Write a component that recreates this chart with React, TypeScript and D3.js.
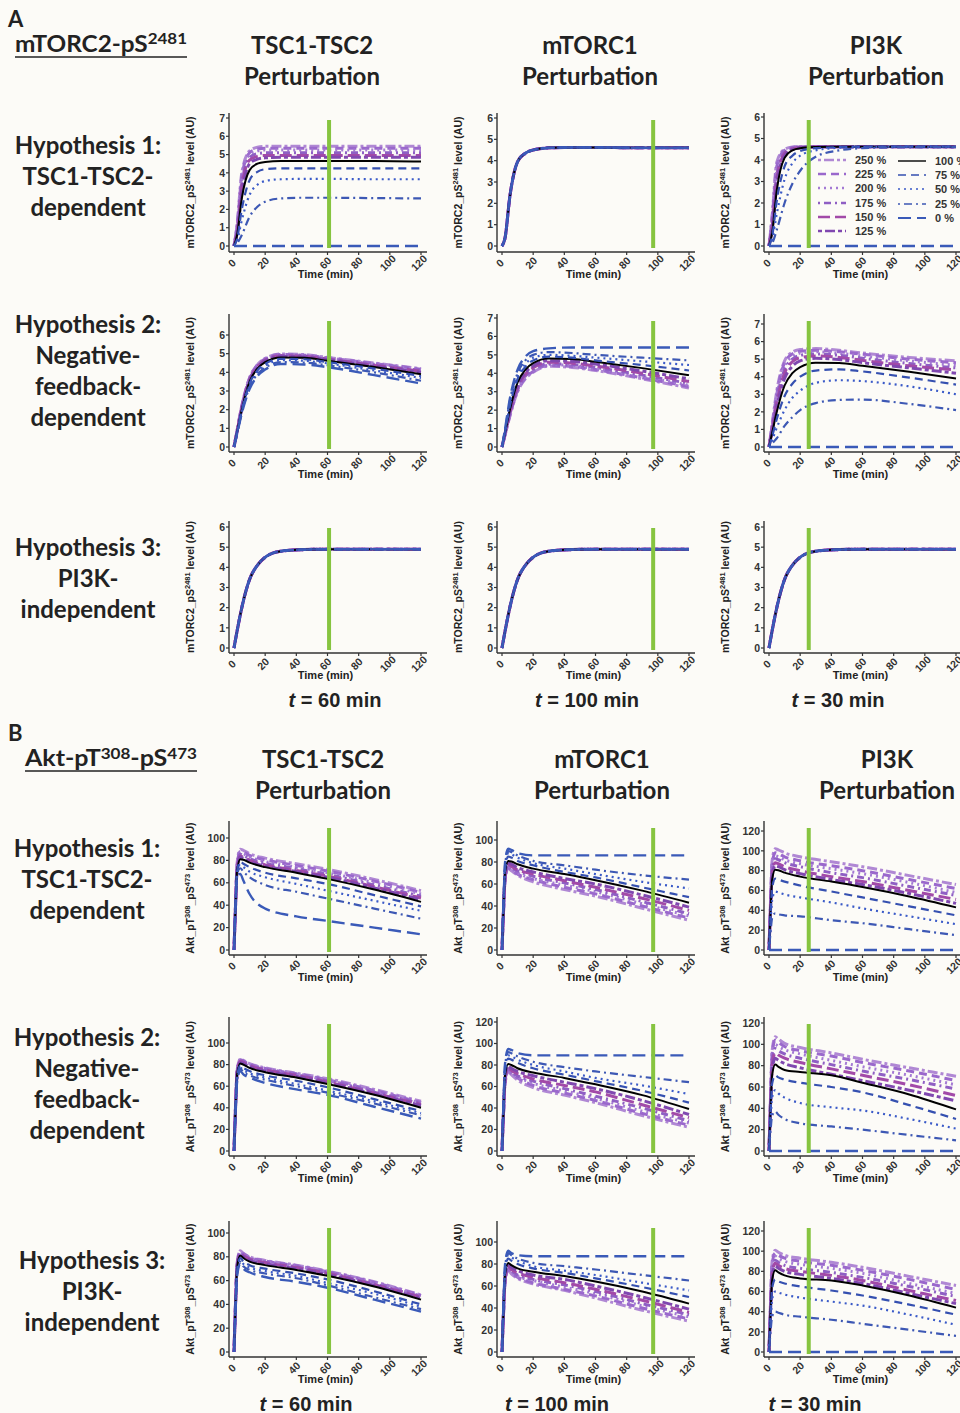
import React from 'react';
import * as d3 from 'd3';

const W = 960;
const H = 1413;

// perturbation levels, in legend order
const LEVELS = ['250 %', '225 %', '200 %', '175 %', '150 %', '125 %', '100 %', '75 %', '50 %', '25 %', '0 %'];

// sample times (min)
const TIME_A = [0, 2, 5, 10, 15, 20, 30, 45, 60, 90, 120];
const TIME_B = [0, 1, 2, 4, 6, 10, 20, 40, 60, 90, 120];

const ZEROS = [0, 0, 0, 0, 0, 0, 0, 0, 0, 0, 0];

// ---- A: mTORC2-pS2481 ----
const A_H1_TSC = [
  [0, 1.2, 4.0, 5.2, 5.4, 5.45, 5.45, 5.45, 5.45, 5.45, 5.45],
  [0, 1.1, 3.8, 5.1, 5.3, 5.35, 5.35, 5.35, 5.35, 5.35, 5.35],
  [0, 1.0, 3.6, 5.0, 5.2, 5.25, 5.25, 5.25, 5.25, 5.25, 5.25],
  [0, 0.9, 3.4, 4.85, 5.05, 5.1, 5.1, 5.1, 5.1, 5.1, 5.1],
  [0, 0.8, 3.2, 4.7, 4.9, 4.95, 4.95, 4.95, 4.95, 4.95, 4.95],
  [0, 0.7, 2.9, 4.5, 4.75, 4.82, 4.85, 4.85, 4.85, 4.85, 4.85],
  [0, 0.6, 2.6, 4.15, 4.5, 4.6, 4.65, 4.65, 4.65, 4.65, 4.62],
  [0, 0.4, 2.0, 3.6, 4.05, 4.2, 4.25, 4.25, 4.25, 4.25, 4.25],
  [0, 0.3, 1.4, 2.8, 3.35, 3.55, 3.65, 3.67, 3.67, 3.65, 3.65],
  [0, 0.15, 0.6, 1.6, 2.15, 2.42, 2.6, 2.64, 2.64, 2.62, 2.6],
  ZEROS,
];
const A_H1_MTORC1_CURVE = [0, 0.4, 2.3, 3.95, 4.35, 4.5, 4.6, 4.62, 4.62, 4.6, 4.6];
const A_H1_MTORC1 = LEVELS.map(() => A_H1_MTORC1_CURVE);
const A_H1_PI3K = [
  [0, 1.4, 3.9, 4.5, 4.6, 4.62, 4.62, 4.62, 4.62, 4.62, 4.62],
  [0, 1.3, 3.7, 4.45, 4.58, 4.62, 4.62, 4.62, 4.62, 4.62, 4.62],
  [0, 1.2, 3.5, 4.4, 4.56, 4.6, 4.62, 4.62, 4.62, 4.62, 4.62],
  [0, 1.05, 3.3, 4.35, 4.54, 4.6, 4.62, 4.62, 4.62, 4.62, 4.62],
  [0, 0.9, 3.1, 4.3, 4.52, 4.58, 4.62, 4.62, 4.62, 4.62, 4.62],
  [0, 0.75, 2.85, 4.2, 4.48, 4.56, 4.61, 4.62, 4.62, 4.62, 4.62],
  [0, 0.6, 2.6, 4.1, 4.45, 4.55, 4.6, 4.62, 4.62, 4.62, 4.62],
  [0, 0.45, 2.1, 3.7, 4.2, 4.42, 4.55, 4.6, 4.62, 4.62, 4.62],
  [0, 0.3, 1.5, 3.1, 3.85, 4.2, 4.45, 4.57, 4.6, 4.62, 4.62],
  [0, 0.12, 0.75, 2.0, 2.9, 3.5, 4.15, 4.45, 4.55, 4.6, 4.6],
  ZEROS,
];
const A_H2_TSC = [
  [0, 0.9, 2.2, 3.7, 4.4, 4.75, 4.98, 4.95, 4.8, 4.5, 4.2],
  [0, 0.9, 2.2, 3.7, 4.4, 4.72, 4.95, 4.92, 4.78, 4.47, 4.17],
  [0, 0.85, 2.15, 3.65, 4.35, 4.7, 4.93, 4.9, 4.75, 4.44, 4.14],
  [0, 0.85, 2.1, 3.6, 4.3, 4.67, 4.9, 4.87, 4.72, 4.4, 4.1],
  [0, 0.85, 2.1, 3.6, 4.3, 4.65, 4.88, 4.85, 4.7, 4.37, 4.06],
  [0, 0.8, 2.05, 3.55, 4.25, 4.6, 4.85, 4.82, 4.67, 4.33, 4.0],
  [0, 0.8, 2.0, 3.5, 4.2, 4.55, 4.8, 4.78, 4.62, 4.28, 3.9],
  [0, 0.8, 1.95, 3.4, 4.1, 4.45, 4.72, 4.7, 4.55, 4.2, 3.8],
  [0, 0.75, 1.9, 3.3, 4.0, 4.35, 4.65, 4.62, 4.48, 4.1, 3.7],
  [0, 0.75, 1.85, 3.2, 3.9, 4.25, 4.55, 4.52, 4.38, 4.0, 3.55],
  [0, 0.7, 1.8, 3.1, 3.8, 4.15, 4.45, 4.42, 4.28, 3.85, 3.4],
];
const A_H2_MTORC1 = [
  [0, 0.65, 1.65, 3.0, 3.7, 4.05, 4.38, 4.32, 4.15, 3.7, 3.2],
  [0, 0.7, 1.7, 3.05, 3.75, 4.1, 4.42, 4.37, 4.2, 3.75, 3.28],
  [0, 0.7, 1.75, 3.1, 3.8, 4.15, 4.47, 4.42, 4.25, 3.82, 3.35],
  [0, 0.7, 1.8, 3.15, 3.85, 4.2, 4.52, 4.48, 4.32, 3.9, 3.45],
  [0, 0.75, 1.85, 3.25, 3.95, 4.3, 4.6, 4.55, 4.4, 4.0, 3.55],
  [0, 0.75, 1.9, 3.35, 4.05, 4.4, 4.68, 4.65, 4.5, 4.12, 3.7],
  [0, 0.8, 2.0, 3.5, 4.2, 4.55, 4.8, 4.78, 4.62, 4.28, 3.9],
  [0, 0.85, 2.2, 3.7, 4.35, 4.7, 4.9, 4.85, 4.7, 4.45, 4.15],
  [0, 0.9, 2.4, 3.85, 4.5, 4.85, 5.0, 4.95, 4.85, 4.65, 4.45],
  [0, 0.95, 2.5, 4.0, 4.7, 5.0, 5.15, 5.1, 5.0, 4.85, 4.7],
  [0, 1.0, 2.6, 4.2, 4.9, 5.2, 5.35, 5.4, 5.4, 5.4, 5.4],
];
const A_H2_PI3K = [
  [0, 1.3, 3.2, 4.9, 5.4, 5.55, 5.6, 5.5, 5.35, 5.1, 4.9],
  [0, 1.2, 3.0, 4.8, 5.3, 5.45, 5.5, 5.42, 5.28, 5.0, 4.8],
  [0, 1.15, 2.9, 4.6, 5.15, 5.35, 5.42, 5.33, 5.18, 4.9, 4.65],
  [0, 1.05, 2.7, 4.4, 5.0, 5.22, 5.3, 5.22, 5.05, 4.75, 4.5],
  [0, 1.0, 2.5, 4.2, 4.85, 5.08, 5.18, 5.1, 4.93, 4.62, 4.38],
  [0, 0.9, 2.3, 3.9, 4.6, 4.9, 5.05, 4.98, 4.8, 4.5, 4.2],
  [0, 0.8, 2.0, 3.5, 4.2, 4.55, 4.8, 4.78, 4.62, 4.28, 3.9],
  [0, 0.6, 1.6, 2.9, 3.6, 4.0, 4.35, 4.42, 4.3, 3.95, 3.55],
  [0, 0.4, 1.1, 2.1, 2.8, 3.2, 3.65, 3.8, 3.75, 3.45, 3.0],
  [0, 0.2, 0.5, 1.2, 1.7, 2.1, 2.5, 2.68, 2.7, 2.45, 2.1],
  ZEROS,
];
const A_H3_CURVE = [0, 0.85, 2.0, 3.4, 4.1, 4.5, 4.8, 4.88, 4.9, 4.9, 4.9];
const A_H3 = LEVELS.map(() => A_H3_CURVE);

// ---- B: Akt-pT308-pS473 ----
const B_H1_TSC = [
  [0, 40, 78, 90, 89, 86, 82, 77, 72, 63, 53],
  [0, 40, 76, 88, 87.5, 84.5, 80.5, 75.5, 70.5, 61.5, 51.5],
  [0, 40, 75, 87, 86, 83, 79, 74, 69, 60, 50],
  [0, 40, 74, 85.5, 84.5, 81.5, 77.5, 72.5, 67.5, 58, 48],
  [0, 40, 73, 84, 83, 80, 76, 71, 66, 56.5, 46.5],
  [0, 40, 72, 83, 82, 79, 75, 70, 65, 55.5, 45],
  [0, 40, 71, 81, 80.5, 78, 74, 69, 63.5, 54, 43],
  [0, 40, 70, 79, 77, 74, 69, 64, 59, 49, 39],
  [0, 40, 69, 76, 74, 70, 65, 59, 53, 44, 35],
  [0, 40, 68, 73, 70, 65, 58, 52, 46, 37, 28],
  [0, 40, 66, 68, 62, 50, 37, 30, 26, 20, 14],
];
const B_H1_MTORC1 = [
  [0, 35, 63, 74, 72, 68, 62, 55, 49, 38, 27],
  [0, 35, 64, 75, 73, 69, 64, 57, 51, 40, 29],
  [0, 36, 65, 76, 74, 70, 65, 59, 53, 42, 31],
  [0, 37, 66, 77, 75, 72, 67, 61, 55, 44, 33],
  [0, 38, 67, 78, 76, 73, 69, 63, 57, 47, 36],
  [0, 39, 69, 79, 78, 75, 71, 65, 60, 50, 39],
  [0, 40, 71, 81, 80.5, 78, 74, 69, 63.5, 54, 43],
  [0, 42, 74, 85, 84, 81, 77, 71, 66, 57, 48],
  [0, 43, 76, 88, 87, 84, 79, 74, 69, 62, 56],
  [0, 44, 78, 90, 89, 86, 81, 77, 73, 68, 64],
  [0, 45, 80, 92, 91, 88, 86, 86, 86, 86, 86],
];
const B_H1_PI3K = [
  [0, 50, 90, 102, 101, 98, 94, 89, 84, 75, 66],
  [0, 48, 87, 98, 97, 94, 90, 85, 80, 71, 62],
  [0, 46, 84, 95, 94, 91, 87, 82, 77, 68, 58],
  [0, 44, 80, 92, 91, 88, 84, 78, 73, 64, 55],
  [0, 42, 77, 88, 87, 84, 80, 74, 69, 60, 51],
  [0, 41, 74, 85, 84, 81, 77, 71, 66, 57, 47],
  [0, 40, 71, 81, 80.5, 78, 74, 69, 63.5, 54, 43],
  [0, 35, 62, 72, 71, 69, 65, 59, 53, 44, 35],
  [0, 28, 50, 59, 58, 56, 53, 48, 42, 34, 26],
  [0, 18, 32, 37, 36, 35, 34, 30, 27, 21, 15],
  ZEROS,
];
const B_H2_TSC = [
  [0, 42, 75, 85, 84, 81, 77, 72, 67, 57, 46],
  [0, 42, 74, 84.5, 83.5, 80.5, 76.5, 71.5, 66, 56, 45],
  [0, 41, 74, 84, 83, 80, 76, 71, 65.5, 55, 44.5],
  [0, 41, 73, 83.5, 82.5, 79.5, 75.5, 70.5, 65, 54.5, 44],
  [0, 41, 73, 83, 82, 79, 75, 70, 64, 53.5, 43],
  [0, 40, 72, 82, 81, 78, 74, 69, 63, 53, 42],
  [0, 40, 71, 81, 80, 77, 73, 68, 62, 52, 40],
  [0, 39, 69, 79, 77, 74, 70, 65, 59, 48, 37],
  [0, 38, 68, 77, 75, 72, 68, 62, 56, 46, 35],
  [0, 37, 66, 76, 73, 70, 66, 60, 54, 44, 33],
  [0, 36, 64, 74, 71, 68, 63, 57, 52, 41, 30],
];
const B_H2_MTORC1 = [
  [0, 35, 63, 74, 71, 66, 59, 52, 45, 33, 22],
  [0, 35, 64, 75, 72, 68, 61, 54, 47, 35, 24],
  [0, 36, 65, 76, 73, 69, 63, 56, 49, 37, 26],
  [0, 37, 66, 77, 74, 70, 65, 58, 51, 40, 28],
  [0, 38, 67, 78, 75, 72, 67, 61, 55, 43, 31],
  [0, 39, 69, 79, 77, 74, 70, 64, 58, 47, 34],
  [0, 40, 71, 81, 80, 77, 73, 68, 62, 52, 39],
  [0, 42, 75, 86, 85, 82, 77, 71, 65, 56, 45],
  [0, 44, 78, 89, 88, 85, 80, 74, 68, 61, 53],
  [0, 45, 80, 92, 91, 88, 83, 78, 74, 69, 64],
  [0, 46, 82, 95, 94, 91, 89, 89, 89, 89, 89],
];
const B_H2_PI3K = [
  [0, 52, 94, 107, 105, 101, 97, 92, 86, 78, 70],
  [0, 50, 91, 104, 102, 98, 94, 89, 83, 75, 66],
  [0, 48, 88, 100, 98, 95, 91, 85, 79, 71, 62],
  [0, 46, 84, 96, 94, 91, 87, 81, 75, 67, 58],
  [0, 44, 80, 92, 90, 87, 83, 77, 71, 62, 52],
  [0, 42, 76, 87, 85, 82, 78, 72, 66, 57, 47],
  [0, 40, 71, 81, 79, 76, 74, 71, 64, 53, 39],
  [0, 35, 63, 71, 69, 67, 64, 60, 55, 43, 30],
  [0, 28, 50, 57, 54, 50, 45, 41, 38, 30, 21],
  [0, 19, 33, 37, 34, 30, 26, 23, 20, 15, 10],
  ZEROS,
];
const B_H3_TSC = [
  [0, 42, 75, 85, 83, 80, 77, 73, 68, 59, 48],
  [0, 42, 74, 84.5, 82.5, 79.5, 76.5, 72.5, 67.5, 58.5, 47.5],
  [0, 41, 74, 84, 82, 79, 76, 72, 67, 58, 47],
  [0, 41, 73, 83.5, 81.5, 78.5, 75.5, 71.5, 66.5, 57, 46.5],
  [0, 41, 73, 83, 81, 78, 75, 71, 66, 56.5, 46],
  [0, 40, 72, 82, 80, 77, 74, 70, 65, 56, 45],
  [0, 40, 71, 81, 79, 76, 73, 69, 64, 55, 44],
  [0, 39, 69, 79, 76, 73, 70, 66, 61, 51, 40],
  [0, 38, 68, 77, 74, 71, 68, 64, 58, 49, 38],
  [0, 37, 66, 76, 72, 69, 66, 62, 56, 46, 36],
  [0, 36, 64, 74, 70, 67, 63, 59, 54, 44, 34],
];
const B_H3_MTORC1 = [
  [0, 35, 63, 74, 71, 67, 62, 56, 49, 38, 28],
  [0, 35, 64, 75, 72, 68, 63, 57, 51, 40, 30],
  [0, 36, 65, 76, 73, 69, 65, 59, 53, 42, 32],
  [0, 37, 66, 77, 74, 70, 66, 61, 55, 44, 34],
  [0, 38, 67, 78, 75, 72, 68, 63, 57, 47, 36],
  [0, 39, 69, 79, 77, 74, 70, 66, 60, 50, 39],
  [0, 40, 71, 81, 79, 76, 73, 69, 64, 55, 44],
  [0, 42, 74, 85, 83, 80, 76, 72, 67, 59, 50],
  [0, 43, 76, 88, 86, 83, 78, 74, 70, 63, 56],
  [0, 44, 78, 90, 88, 85, 81, 78, 75, 70, 65],
  [0, 45, 80, 92, 90, 88, 87, 87, 87, 87, 87],
];
const B_H3_PI3K = [
  [0, 50, 90, 101, 99, 96, 93, 89, 84, 75, 66],
  [0, 48, 87, 98, 96, 93, 90, 86, 81, 72, 62],
  [0, 46, 84, 95, 93, 90, 87, 83, 78, 68, 58],
  [0, 44, 80, 91, 89, 86, 83, 79, 74, 65, 55],
  [0, 42, 77, 88, 86, 83, 80, 76, 71, 61, 51],
  [0, 41, 74, 85, 83, 80, 77, 73, 68, 58, 48],
  [0, 40, 71, 81, 79, 76, 73, 71, 66, 56, 44],
  [0, 35, 63, 72, 70, 68, 65, 61, 56, 47, 37],
  [0, 29, 52, 60, 59, 57, 54, 50, 46, 37, 27],
  [0, 20, 35, 40, 39, 37, 35, 32, 28, 22, 16],
  ZEROS,
];

const COL_TITLES = ['TSC1-TSC2', 'mTORC1', 'PI3K'];
const ROW_TITLES = [
  ['Hypothesis 1:', 'TSC1-TSC2-', 'dependent'],
  ['Hypothesis 2:', 'Negative-', 'feedback-', 'dependent'],
  ['Hypothesis 3:', 'PI3K-', 'independent'],
];
const MARKER_T = [61, 97, 25.5]; // green marker time per column
const MARKER_LABEL = ['60', '100', '30'];
const X_TICKS = [0, 20, 40, 60, 80, 100, 120];

// line styles, same order as LEVELS
const STYLES = [
  { c: '#b088d4', w: 3, d: '3,3,10,3' },
  { c: '#9a68cc', w: 3, d: '8,5' },
  { c: '#a47ad4', w: 3, d: '2,4' },
  { c: '#8f5fc4', w: 3, d: '2,4,7,4' },
  { c: '#a24aa8', w: 3, d: '12,5' },
  { c: '#8048b0', w: 3, d: '4,3,10,3' },
  { c: '#000000', w: 2, d: null },
  { c: '#3550b0', w: 2.2, d: '8,5' },
  { c: '#3a5ac8', w: 2.2, d: '2,4' },
  { c: '#3d58b4', w: 2.2, d: '2,4,8,4' },
  { c: '#3a5ab8', w: 2.4, d: '13,6' },
];

const COLS = [
  { x0: 234, x1: 421 },
  { x0: 502, x1: 689 },
  { x0: 769, x1: 956 },
];

const ROWS_A = [
  { y0: 246, bottom: 252, top: 113, label: 176, cal: [[7, 118], [6, 118], [6, 117]] },
  { y0: 447, bottom: 452, top: 314, label: 370.5, cal: [[6, 335], [7, 318], [7, 324]] },
  { y0: 648, bottom: 653, top: 521, label: 578, cal: [[6, 527], [6, 527], [6, 527]] },
];
const ROWS_B = [
  { y0: 950, bottom: 955, top: 821, label: 879, cal: [[100, 838], [100, 840], [120, 831]] },
  { y0: 1151, bottom: 1156, top: 1017, label: 1083.5, cal: [[100, 1043], [120, 1022], [120, 1023]] },
  { y0: 1352, bottom: 1357, top: 1221, label: 1291, cal: [[100, 1233], [100, 1242], [120, 1231]] },
];

const DATA_A = [
  [A_H1_TSC, A_H1_MTORC1, A_H1_PI3K],
  [A_H2_TSC, A_H2_MTORC1, A_H2_PI3K],
  [A_H3, A_H3, A_H3],
];
const DATA_B = [
  [B_H1_TSC, B_H1_MTORC1, B_H1_PI3K],
  [B_H2_TSC, B_H2_MTORC1, B_H2_PI3K],
  [B_H3_TSC, B_H3_MTORC1, B_H3_PI3K],
];

const HEAD = "Lato, 'Open Sans', sans-serif";
const AX = "'Liberation Sans', Arial, sans-serif";

function YLabel({ kind, x, y }) {
  const sup = { fontSize: 7.5 };
  return (
    <text transform={`translate(${x},${y}) rotate(-90)`} textAnchor="middle" fontFamily={AX}
      fontWeight="bold" fontSize={10.5} fill="#222">
      {kind === 'A' ? (
        <>
          mTORC2_pS<tspan dy={-4} style={sup}>2481</tspan><tspan dy={4}> level (AU)</tspan>
        </>
      ) : (
        <>
          Akt_pT<tspan dy={-4} style={sup}>308</tspan><tspan dy={4}>_pS</tspan>
          <tspan dy={-4} style={sup}>473</tspan><tspan dy={4}> level (AU)</tspan>
        </>
      )}
    </text>
  );
}

function Panel({ series, times, col, row, kind, legend }) {
  const c = COLS[col];
  const [tv, tpx] = row.cal[col];
  const x = d3.scaleLinear().domain([0, 120]).range([c.x0, c.x1]);
  const y = d3.scaleLinear().domain([0, tv]).range([row.y0, tpx]);
  const ax = c.x0 - 5;
  const yTicks = d3.range(0, tv + 0.001, kind === 'A' ? 1 : 20);
  const line = d3.line<number>()
    .x((_, i) => x(times[i]))
    .y((v) => y(v))
    .curve(d3.curveMonotoneX);
  const gx = x(MARKER_T[col]);
  return (
    <g>
      {series.map((vals, i) => (
        <path key={i} d={line(vals) || ''} fill="none" stroke={STYLES[i].c}
          strokeWidth={STYLES[i].w} strokeDasharray={STYLES[i].d || undefined}
          strokeLinecap="butt" strokeLinejoin="round" />
      ))}
      <line x1={gx} x2={gx} y1={row.top + 7} y2={row.y0 + 2} stroke="#86c440" strokeWidth={4} />
      {/* axes */}
      <line x1={ax} x2={ax} y1={row.top} y2={row.bottom} stroke="#333" strokeWidth={1.4} />
      <line x1={ax} x2={c.x1 + 6} y1={row.bottom} y2={row.bottom} stroke="#333" strokeWidth={1.4} />
      {yTicks.map((t) => (
        <g key={t}>
          <line x1={ax - 3} x2={ax} y1={y(t)} y2={y(t)} stroke="#333" strokeWidth={1.2} />
          <text x={ax - 4} y={y(t)} dy="0.35em" textAnchor="end" fontFamily={AX} fontWeight="bold"
            fontSize={10.5} fill="#333">{t}</text>
        </g>
      ))}
      {X_TICKS.map((t) => (
        <g key={t}>
          <line x1={x(t)} x2={x(t)} y1={row.bottom} y2={row.bottom + 3} stroke="#333" strokeWidth={1.2} />
          <text transform={`translate(${x(t) - 2},${row.bottom + 11}) rotate(-45)`} textAnchor="middle"
            dy="0.35em" fontFamily={AX} fontWeight="bold" fontSize={10.5} fill="#333">{t}</text>
        </g>
      ))}
      <text x={(c.x0 + c.x1) / 2 - 2} y={row.bottom + 26} textAnchor="middle" fontFamily={AX}
        fontWeight="bold" fontSize={11} fill="#222">Time (min)</text>
      <YLabel kind={kind} x={c.x0 - 40} y={(row.top + row.bottom) / 2} />
      {legend && <Legend />}
    </g>
  );
}

function Legend() {
  const rows = [160, 174, 188, 203, 217, 231];
  const items = LEVELS.map((lab, i) => {
    const left = i < 6;
    const ry = left ? rows[i] : rows[i - 6] + 1;
    const kx = left ? 818 : 898;
    return (
      <g key={lab}>
        <line x1={kx} x2={kx + 28} y1={ry} y2={ry} stroke={STYLES[i].c} strokeWidth={STYLES[i].w - 0.6}
          strokeDasharray={STYLES[i].d || undefined} />
        <text x={kx + 37} y={ry} dy="0.35em" fontFamily={AX} fontWeight="bold" fontSize={11}
          fill="#333">{lab}</text>
      </g>
    );
  });
  return <g>{items}</g>;
}

function Section({ kind, data, rows, top, colX, rowLabelX, bottomY, tX }) {
  const times = kind === 'A' ? TIME_A : TIME_B;
  const tx0 = kind === 'A' ? 15 : 25;
  return (
    <g>
      <text x={8} y={top + 27} fontFamily={HEAD} fontWeight="bold" fontSize={22} fill="#222">{kind}</text>
      {kind === 'A' ? (
        <text x={tx0} y={top + 52} fontFamily={HEAD} fontWeight="bold" fontSize={23} fill="#222"
          textLength={172} lengthAdjust="spacingAndGlyphs">
          mTORC2-pS<tspan dy={-8} fontSize={16}>2481</tspan>
        </text>
      ) : (
        <text x={tx0} y={top + 52} fontFamily={HEAD} fontWeight="bold" fontSize={22} fill="#222"
          textLength={172} lengthAdjust="spacingAndGlyphs">
          Akt-pT<tspan dy={-7} fontSize={15}>308</tspan><tspan dy={7}>-pS</tspan>
          <tspan dy={-7} fontSize={15}>473</tspan>
        </text>
      )}
      <line x1={tx0} x2={tx0 + 172} y1={top + 57} y2={top + 57} stroke="#222" strokeWidth={1.6} />
      {COL_TITLES.map((t, i) => (
        <g key={t}>
          <text x={colX[i]} y={top + 54} textAnchor="middle" fontFamily={HEAD} fontWeight="bold"
            fontSize={24} fill="#222">{t}</text>
          <text x={colX[i]} y={top + 85} textAnchor="middle" fontFamily={HEAD} fontWeight="bold"
            fontSize={24} fill="#222">Perturbation</text>
        </g>
      ))}
      {ROW_TITLES.map((lines, r) => {
        const n = lines.length;
        const mid = rows[r].label;
        return lines.map((l, j) => (
          <text key={r + '-' + j} x={rowLabelX[r]} y={mid + (j - (n - 1) / 2) * 31 + 8.5} textAnchor="middle"
            fontFamily={HEAD} fontWeight="bold" fontSize={24} fill="#222">{l}</text>
        ));
      })}
      {rows.map((row, r) => data[r].map((series, cIdx) => (
        <Panel key={r + '-' + cIdx} series={series} times={times} col={cIdx} row={row} kind={kind}
          legend={kind === 'A' && r === 0 && cIdx === 2} />
      )))}
      {MARKER_LABEL.map((m, i) => (
        <text key={m} x={tX[i]} y={bottomY} textAnchor="middle" fontFamily={AX} fontWeight="bold"
          fontSize={20} fill="#222">
          <tspan fontStyle="italic">t</tspan> = {m} min
        </text>
      ))}
    </g>
  );
}

export default function App() {
  return (
    <svg width={W} height={H} viewBox={`0 0 ${W} ${H}`}
      style={{ position: 'absolute', left: 0, top: 0, display: 'block' }}>
      <rect width={W} height={H} fill="#fcfbf7" />
      <Section kind="A" data={DATA_A} rows={ROWS_A} top={0} colX={[312, 590, 876]}
        rowLabelX={[88, 88, 88]} bottomY={707} tX={[335, 587, 838]} />
      <Section kind="B" data={DATA_B} rows={ROWS_B} top={714} colX={[323, 602, 887]}
        rowLabelX={[87, 87, 92]} bottomY={1411} tX={[306, 557, 815]} />
    </svg>
  );
}
